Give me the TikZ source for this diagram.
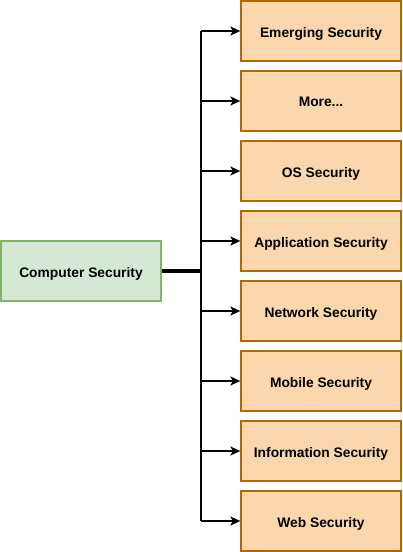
\documentclass[tikz,border=0pt]{standalone}
\usepackage{fontspec}
\setmainfont{Liberation Sans}
\usetikzlibrary{arrows.meta}
\definecolor{ofill}{HTML}{FAD7AC}
\definecolor{ostroke}{HTML}{B46504}
\definecolor{gfill}{HTML}{D5E8D4}
\definecolor{gstroke}{HTML}{82B366}
\tikzset{
  boxbase/.style={line width=1.3pt, minimum width=160pt, minimum height=60pt, inner sep=0pt, text depth=0pt, font=\fontsize{13.8}{16}\selectfont\bfseries},
  obox/.style={boxbase, draw=ostroke, fill=ofill},
  gbox/.style={boxbase, draw=gstroke, fill=gfill},
  branch/.style={line width=1.6pt, -{Stealth[length=10pt,width=9pt,inset=2.5pt]}},
  trunk/.style={line width=2.7pt},
  stem/.style={line width=3.2pt}
}
\begin{document}
\begin{tikzpicture}[x=1pt,y=-1pt]
\useasboundingbox (0,0) rectangle (402,552);
\node[gbox] (cs) at (81,271) {\raisebox{-2pt}{Computer Security}};
\node[obox] (n1) at (321,31) {\raisebox{-2pt}{Emerging Security}};
\node[obox] (n2) at (321,101) {\raisebox{-2pt}{More...}};
\node[obox] (n3) at (321,171) {\raisebox{-2pt}{OS Security}};
\node[obox] (n4) at (321,241) {\raisebox{-2pt}{Application Security}};
\node[obox] (n5) at (321,311) {\raisebox{-2pt}{Network Security}};
\node[obox] (n6) at (321,381) {\raisebox{-2pt}{Mobile Security}};
\node[obox] (n7) at (321,451) {\raisebox{-2pt}{Information Security}};
\node[obox] (n8) at (321,521) {\raisebox{-2pt}{Web Security}};
\coordinate (j) at (201,271);
\coordinate (jt) at (201,31);
\coordinate (jb) at (201,521);
\draw[stem] (cs.east) -- (j);
\draw[trunk] (jt) -- (jb);
\foreach \n in {n1,n2,n3,n4,n5,n6,n7,n8}{
  \draw[branch] (j |- \n.west) -- (\n.west);
}
\end{tikzpicture}
\end{document}
